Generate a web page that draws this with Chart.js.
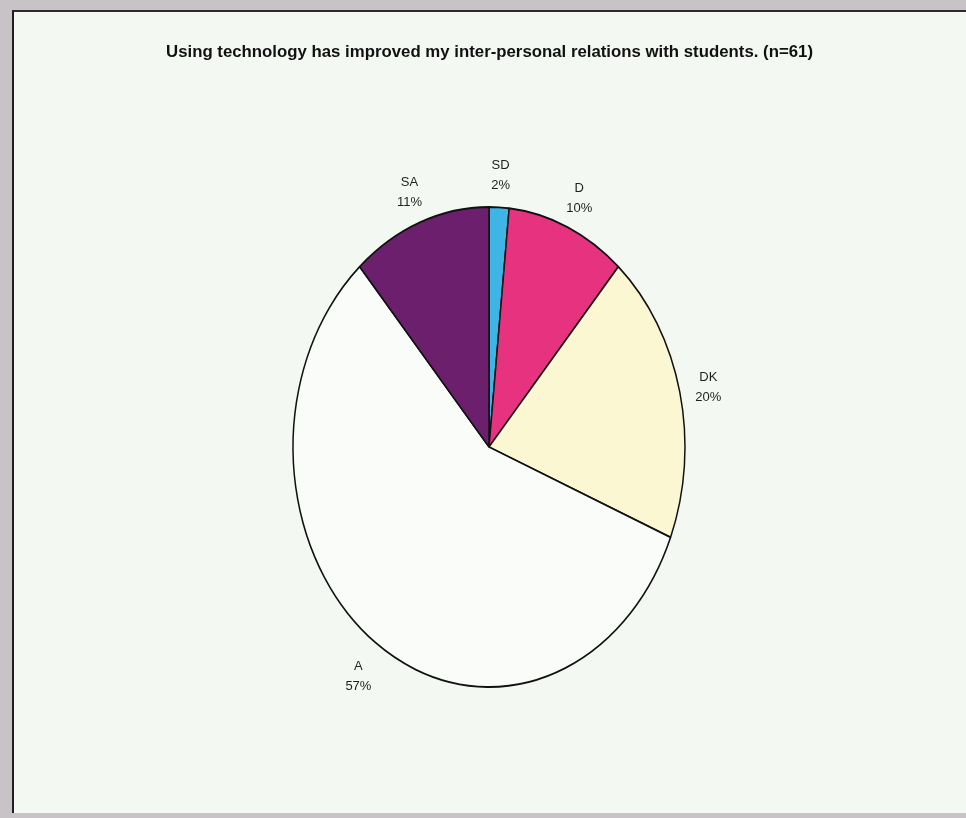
<!DOCTYPE html>
<html>
<head>
<meta charset="utf-8">
<script src="https://cdn.jsdelivr.net/npm/chart.js@4.4.1/dist/chart.umd.min.js"></script>
<style>
  html, body { margin: 0; padding: 0; }
  body { width: 966px; height: 818px; background: #c8c3c7; position: relative; overflow: hidden; }
  .panel {
    position: absolute; left: 12px; top: 10px; width: 954px; height: 803px;
    background: #f3f8f2; border-left: 2px solid #1e1e1e; border-top: 2px solid #2b2b2b;
    box-sizing: border-box;
  }
  #pieChart { position: absolute; left: 0; top: 0; }
</style>
</head>
<body>
<div class="panel"></div>
<canvas id="pieChart" width="966" height="818"></canvas>
<script>
// data (n=61 responses)
const titleText = "Using technology has improved my inter-personal relations with students. (n=61)";
const categories = ["SD", "D", "DK", "A", "SA"];
const responseCounts = [1, 6, 12, 35, 7];
const sliceColors = ["#3fb5e6", "#e6327f", "#fbf7d3", "#f9fcf8", "#6b1f6c"];

const pieRadiusX = 196;       // horizontal radius of the pie
const squashY = 240 / 196;    // the original pie is an upright ellipse
const labelFactor = 1.15;     // labels sit a bit outside the rim

// stretch the pie vertically around its centre
const ellipsePlugin = {
    id: 'ellipse',
    beforeDatasetsDraw(chart) {
        const arc = chart.getDatasetMeta(0).data[0];
        const ctx = chart.ctx;
        ctx.save();
        ctx.translate(arc.x, arc.y);
        ctx.scale(1, squashY);
        ctx.translate(-arc.x, -arc.y);
    },
    afterDatasetsDraw(chart) {
        chart.ctx.restore();
    }
};

// category + percent labels and the condensed bold title
const labelPlugin = {
    id: 'sliceLabels',
    afterDraw(chart) {
        const ctx = chart.ctx;
        const arcs = chart.getDatasetMeta(0).data;
        const total = responseCounts.reduce((a, b) => a + b, 0);

        ctx.save();
        ctx.fillStyle = "#1f1f1f";
        ctx.textAlign = "center";
        ctx.textBaseline = "middle";
        ctx.font = "13px 'Liberation Sans', Arial, sans-serif";
        arcs.forEach((arc, i) => {
            const mid = (arc.startAngle + arc.endAngle) / 2;
            const x = arc.x + Math.cos(mid) * arc.outerRadius * labelFactor;
            const y = arc.y + Math.sin(mid) * arc.outerRadius * squashY * labelFactor + 4;
            const pct = Math.round(responseCounts[i] / total * 100) + "%";
            ctx.fillText(categories[i], x, y - 10);
            ctx.fillText(pct, x, y + 10);
        });

        // title, squeezed to the width of the original narrow face
        ctx.font = "bold 17px 'Liberation Sans', Arial, sans-serif";
        const w = ctx.measureText(titleText).width;
        ctx.translate(489.5, 52);
        ctx.scale(647 / w, 1);
        ctx.fillStyle = "#111";
        ctx.fillText(titleText, 0, 0);
        ctx.restore();
    }
};

const ctx = document.getElementById('pieChart').getContext('2d');
new Chart(ctx, {
    type: 'pie',
    data: {
        labels: categories,
        datasets: [{
            data: responseCounts,
            backgroundColor: sliceColors,
            borderColor: "#111",
            borderWidth: 1.5,
            radius: pieRadiusX
        }]
    },
    options: {
        responsive: false,
        animation: false,
        layout: { padding: { left: 12, right: 0, top: 76, bottom: 0 } },
        plugins: {
            legend: { display: false },
            tooltip: { enabled: false },
            title: { display: false }
        }
    },
    plugins: [ellipsePlugin, labelPlugin]
});
</script>
</body>
</html>
